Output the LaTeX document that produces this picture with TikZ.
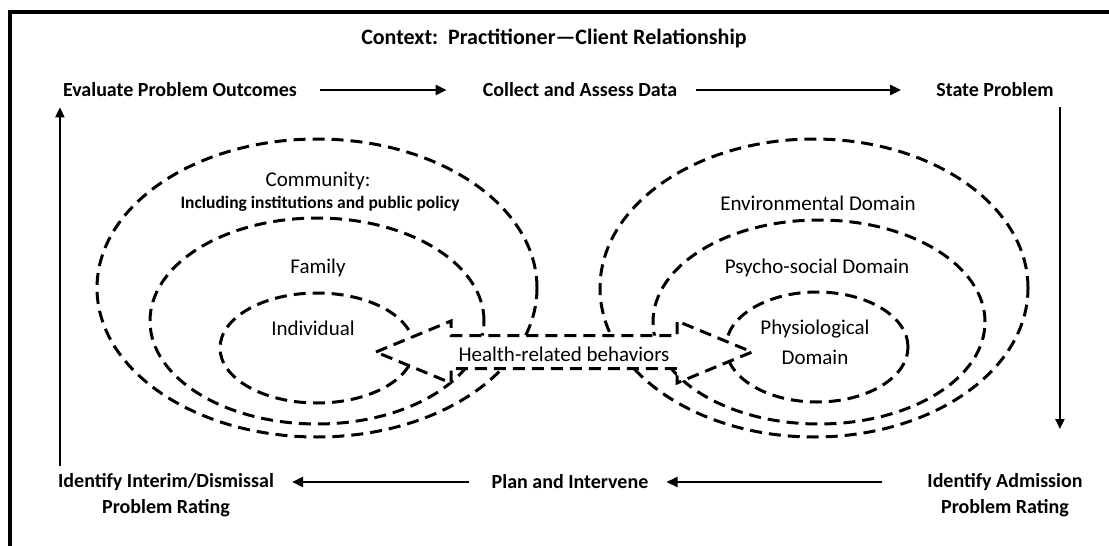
\documentclass[tikz,border=0pt]{standalone}
\usepackage{fontspec}
\setmainfont{Carlito}
\usetikzlibrary{arrows.meta}

\tikzset{
	dom/.style={line width=3pt, dash pattern=on 12pt off 7pt},
	flow/.style={line width=2.2pt, -{Triangle[length=11pt,width=10pt]}},
	vflow/.style={line width=2pt, -{Triangle[length=10pt,width=9pt]}},
	stage/.style={font=\bfseries\fontsize{20}{26}\selectfont, inner sep=2pt, align=center},
	dlabel/.style={font=\fontsize{21}{30}\selectfont, inner sep=1pt, align=center},
}

\begin{document}
\begin{tikzpicture}[x=1pt,y=-1pt]
			\useasboundingbox (0,0) rectangle (1109,546);
			\draw[line width=4pt] (10,546) -- (10,12) -- (1109,12);
			
			\node[font=\bfseries\fontsize{22}{26}\selectfont] (title) at (554,38) {Context:\ \ Practitioner—Client Relationship};
			
			% the cycle round the frame
			\node[stage] (eval) at (180,90) {Evaluate Problem Outcomes};
			\node[stage] (collect) at (580,90) {Collect and Assess Data};
			\node[stage] (state) at (995,90) {State Problem};
			\node[stage] (admit) at (1005,495) {Identify Admission\\Problem Rating};
			\node[stage] (plan) at (570,482) {Plan and Intervene};
			\node[stage] (interim) at (166,495) {Identify Interim/Dismissal\\Problem Rating};
			
			\draw[flow, shorten <=21pt, shorten >=34pt] (eval) -- (collect);
			\draw[flow, shorten <=17pt, shorten >=33pt] (collect) -- (state);
			\draw[vflow, shorten <=8pt, shorten >=42pt] ([xshift=4pt]state.south east) -- ([xshift=4pt]state.south east |- admit.north);
			\draw[flow, shorten <=43pt, shorten >=16pt] (admit.west |- plan) -- (plan);
			\draw[flow, shorten <=20pt, shorten >=16pt] (plan) -- (interim.east |- plan);
			\draw[vflow, shorten <=5pt, shorten >=8pt] ([xshift=4pt]interim.north west) -- ([xshift=4pt]interim.north west |- eval.south);
			
			% left rings
			\draw[dom] (317,288) ellipse [x radius=220pt, y radius=149pt];
			\draw[dom] (317,321) ellipse [x radius=167pt, y radius=103pt];
			\draw[dom] (317,348) ellipse [x radius=97pt, y radius=55pt];
			% right rings
			\draw[dom] (814,288) ellipse [x radius=214pt, y radius=149pt];
			\draw[dom] (819,322) ellipse [x radius=166pt, y radius=102pt];
			\draw[dom] (817,347) ellipse [x radius=91pt, y radius=55pt];
			
			% double arrow in the middle
			\draw[dom, fill=white] (376,352) -- (451,321) -- (451,335.5) -- (677,335.5) -- (677,321) -- (752,352)
				-- (677,383) -- (677,368.5) -- (451,368.5) -- (451,383) -- cycle;
			\node[dlabel] (hrb) at (564,354) {Health-related behaviors};
			
			\node[dlabel] (comm) at (318,181) {Community:};
			\node[dlabel, font=\bfseries\fontsize{17.5}{20}\selectfont] (inst) at (320,204) {Including institutions and public policy};
			\node[dlabel] (fam) at (318,268) {Family};
			\node[dlabel] (indiv) at (313,328) {Individual};
			\node[dlabel] (env) at (818,203) {Environmental Domain};
			\node[dlabel] (psy) at (817,268) {Psycho-social Domain};
			\node[dlabel] (phys) at (815,342) {Physiological\\Domain};
\end{tikzpicture}
\end{document}
